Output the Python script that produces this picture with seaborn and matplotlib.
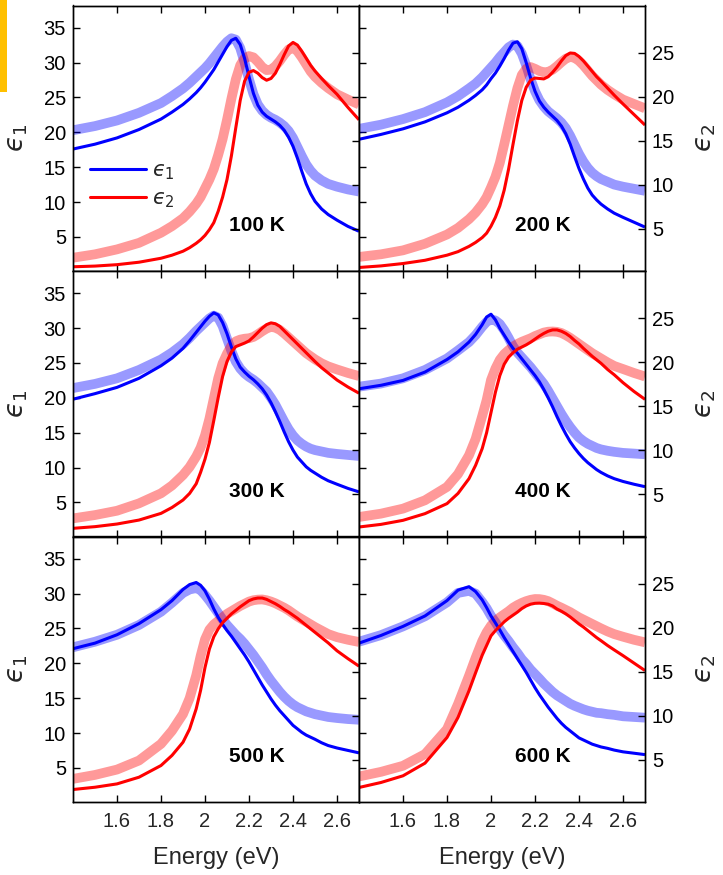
import matplotlib
matplotlib.use("Agg")
import matplotlib.pyplot as plt
import seaborn as sns
from matplotlib.lines import Line2D
from matplotlib.patches import Rectangle
from matplotlib.ticker import FuncFormatter

sns.set_style("ticks")
plt.rcParams["font.family"] = ["Liberation Sans", "DejaVu Sans"]
plt.rcParams["mathtext.fontset"] = "dejavusans"

# ---------------------------------------------------------------- data
# photon energy grid (eV), denser around the excitonic features
energy = [1.40, 1.50, 1.60, 1.70, 1.80, 1.85, 1.90, 1.93, 1.96, 1.98,
          2.00, 2.02, 2.04, 2.06, 2.08, 2.10, 2.12, 2.14, 2.16, 2.18,
          2.20, 2.22, 2.24, 2.26, 2.28, 2.30, 2.32, 2.34, 2.36, 2.38,
          2.40, 2.42, 2.44, 2.46, 2.48, 2.50, 2.53, 2.56, 2.60, 2.65, 2.70]

temperatures = ["100 K", "200 K", "300 K", "400 K", "500 K", "600 K"]

# measured (broad band) and model (thin line) dielectric functions
eps1_exp_100 = [20.3, 20.9, 21.7, 22.8, 24.2, 25.2, 26.3, 27.1, 28.0, 28.6,
                29.2, 29.9, 30.7, 31.5, 32.3, 33.0, 33.5, 33.3, 32.1, 30.0,
                27.6, 25.5, 24.0, 23.1, 22.5, 22.1, 21.8, 21.4, 20.9, 20.2,
                19.2, 17.9, 16.6, 15.4, 14.5, 13.8, 13.1, 12.6, 12.2, 11.8, 11.5]
eps1_mod_100 = [17.6, 18.3, 19.2, 20.4, 21.9, 22.9, 24.0, 24.8, 25.7, 26.4,
                27.2, 28.1, 29.0, 30.1, 31.2, 32.3, 33.2, 33.5, 32.6, 30.6,
                28.0, 25.6, 23.9, 22.9, 22.3, 21.9, 21.5, 21.0, 20.3, 19.3,
                18.0, 16.3, 14.4, 12.6, 11.2, 10.1, 9.0, 8.2, 7.4, 6.5, 5.8]
eps2_exp_100 = [1.71, 2.10, 2.66, 3.40, 4.55, 5.30, 6.20, 6.95, 7.85, 8.60,
                9.60, 10.6, 11.8, 13.4, 15.2, 17.4, 19.8, 22.0, 23.6, 24.4,
                24.65, 24.5, 24.0, 23.4, 23.05, 23.1, 23.5, 24.1, 24.8, 25.4,
                25.6, 25.2, 24.5, 23.7, 22.9, 22.3, 21.6, 21.0, 20.3, 19.7, 19.15]
eps2_mod_100 = [0.68, 0.76, 0.92, 1.20, 1.65, 2.00, 2.45, 2.85, 3.35, 3.75,
                4.25, 4.90, 5.70, 7.00, 8.60, 10.6, 13.3, 16.5, 19.6, 21.8,
                22.8, 23.0, 22.7, 22.2, 21.9, 22.1, 22.7, 23.7, 24.8, 25.8,
                26.2, 25.9, 25.2, 24.4, 23.6, 22.95, 22.1, 21.3, 20.3, 18.8, 17.4]

eps1_exp_200 = [20.5, 21.1, 21.9, 22.9, 24.3, 25.2, 26.3, 27.0, 27.9, 28.6,
                29.3, 30.0, 30.8, 31.5, 32.2, 32.6, 32.4, 31.3, 29.6, 27.6,
                25.9, 24.6, 23.7, 23.0, 22.5, 22.0, 21.4, 20.6, 19.5, 18.2,
                16.9, 15.8, 14.9, 14.2, 13.7, 13.3, 12.9, 12.5, 12.2, 11.9, 11.6]
eps1_mod_200 = [19.0, 19.7, 20.5, 21.5, 22.8, 23.6, 24.6, 25.3, 26.1, 26.8,
                27.7, 28.5, 29.5, 30.6, 31.8, 32.8, 33.0, 32.0, 30.0, 27.8,
                25.9, 24.5, 23.6, 22.9, 22.3, 21.7, 20.9, 19.8, 18.3, 16.5,
                14.8, 13.3, 12.0, 11.0, 10.3, 9.7, 9.0, 8.4, 7.8, 7.1, 6.4]
eps2_exp_200 = [1.80, 2.10, 2.55, 3.30, 4.35, 5.10, 6.10, 6.85, 7.80, 8.60,
                9.70, 10.9, 12.5, 14.6, 16.8, 19.0, 21.0, 22.5, 23.2, 23.4,
                23.2, 22.95, 22.8, 22.85, 23.1, 23.5, 23.95, 24.35, 24.55, 24.45,
                24.1, 23.6, 23.0, 22.4, 21.9, 21.4, 20.8, 20.3, 19.7, 19.2, 18.7]
eps2_mod_200 = [0.60, 0.78, 1.05, 1.42, 2.00, 2.40, 3.00, 3.45, 4.00, 4.50,
                5.30, 6.30, 7.60, 9.40, 11.8, 14.6, 17.3, 19.6, 21.1, 21.9,
                22.15, 22.1, 22.05, 22.3, 22.8, 23.4, 24.1, 24.7, 25.0, 24.95,
                24.6, 24.1, 23.5, 22.9, 22.3, 21.8, 21.0, 20.2, 19.2, 18.0, 16.8]

eps1_exp_300 = [21.4, 22.0, 22.8, 24.0, 25.5, 26.5, 27.7, 28.6, 29.6, 30.2,
                30.8, 31.4, 31.8, 31.5, 30.3, 28.5, 26.7, 25.2, 24.2, 23.5,
                23.0, 22.6, 22.1, 21.5, 20.9, 20.0, 19.0, 17.8, 16.6, 15.5,
                14.6, 13.9, 13.4, 13.0, 12.7, 12.5, 12.3, 12.1, 11.95, 11.8, 11.65]
eps1_mod_300 = [19.8, 20.6, 21.5, 22.8, 24.6, 25.7, 27.1, 28.2, 29.4, 30.2,
                31.0, 31.7, 32.2, 31.9, 30.8, 29.2, 27.3, 25.6, 24.4, 23.7,
                23.1, 22.6, 22.0, 21.3, 20.4, 19.3, 18.0, 16.6, 15.1, 13.7,
                12.5, 11.5, 10.8, 10.1, 9.6, 9.2, 8.6, 8.1, 7.6, 7.0, 6.5]
eps2_exp_300 = [2.26, 2.64, 3.13, 3.97, 5.11, 6.00, 7.19, 8.10, 9.30, 10.3,
                11.7, 13.6, 15.9, 18.2, 19.9, 21.0, 21.9, 22.4, 22.6, 22.7,
                22.75, 22.9, 23.2, 23.55, 23.85, 24.05, 23.95, 23.7, 23.3, 22.85,
                22.4, 21.95, 21.5, 21.05, 20.7, 20.35, 19.9, 19.55, 19.2, 18.8, 18.45]
eps2_mod_300 = [1.13, 1.32, 1.62, 2.07, 2.83, 3.50, 4.35, 5.10, 6.20, 7.50,
                9.00, 10.9, 13.4, 16.0, 18.4, 20.1, 21.2, 21.8, 22.0, 22.2,
                22.45, 22.9, 23.4, 23.9, 24.3, 24.5, 24.4, 24.1, 23.6, 23.1,
                22.6, 22.1, 21.6, 21.1, 20.6, 20.1, 19.4, 18.8, 18.0, 17.2, 16.5]

eps1_exp_400 = [21.6, 22.05, 22.8, 24.0, 25.65, 26.8, 28.0, 29.0, 30.2, 30.9,
                31.25, 31.1, 30.6, 29.7, 28.6, 27.4, 26.5, 25.8, 25.1, 24.4,
                23.6, 22.8, 22.0, 21.0, 19.9, 18.8, 17.7, 16.7, 15.8, 15.0,
                14.3, 13.8, 13.4, 13.1, 12.8, 12.6, 12.4, 12.25, 12.1, 12.0, 11.9]
eps1_mod_400 = [21.3, 21.8, 22.5, 23.7, 25.5, 26.6, 28.0, 29.1, 30.5, 31.6,
                32.0, 31.2, 30.0, 29.0, 28.0, 27.1, 26.4, 25.6, 24.8, 24.0,
                23.2, 22.3, 21.2, 20.0, 18.7, 17.3, 16.0, 14.8, 13.7, 12.8,
                12.0, 11.3, 10.7, 10.2, 9.7, 9.3, 8.8, 8.4, 8.0, 7.6, 7.25]
eps2_exp_400 = [2.42, 2.80, 3.37, 4.32, 5.84, 7.30, 9.44, 11.3, 13.9, 15.7,
                18.0, 19.3, 20.3, 20.95, 21.4, 21.8, 22.1, 22.35, 22.55, 22.75,
                23.0, 23.2, 23.4, 23.5, 23.52, 23.48, 23.35, 23.1, 22.8, 22.45,
                22.1, 21.75, 21.4, 21.05, 20.75, 20.45, 20.0, 19.6, 19.25, 18.8, 18.4]
eps2_mod_400 = [1.28, 1.58, 2.04, 2.80, 3.94, 5.10, 6.78, 8.30, 10.2, 12.0,
                14.3, 16.6, 18.5, 19.8, 20.6, 21.1, 21.5, 21.75, 22.0, 22.3,
                22.65, 23.0, 23.3, 23.55, 23.7, 23.7, 23.55, 23.3, 22.95, 22.5,
                22.1, 21.6, 21.15, 20.7, 20.3, 19.9, 19.2, 18.6, 17.7, 16.7, 15.8]

eps1_exp_500 = [22.3, 23.1, 24.1, 25.5, 27.4, 28.7, 30.1, 30.6, 30.8, 30.5,
                29.8, 29.0, 28.1, 27.2, 26.3, 25.5, 24.8, 24.1, 23.5, 22.8,
                22.0, 21.2, 20.3, 19.4, 18.4, 17.5, 16.7, 15.9, 15.2, 14.6,
                14.1, 13.7, 13.4, 13.1, 12.9, 12.7, 12.5, 12.3, 12.15, 12.0, 11.9]
eps1_mod_500 = [22.1, 22.9, 24.1, 25.7, 27.7, 29.0, 30.6, 31.3, 31.6, 31.2,
                30.4, 29.2, 27.8, 26.6, 25.6, 24.7, 23.9, 23.0, 22.1, 21.2,
                20.2, 19.1, 18.0, 16.9, 15.9, 14.9, 14.0, 13.2, 12.5, 11.8,
                11.1, 10.6, 10.1, 9.7, 9.4, 9.1, 8.6, 8.2, 7.85, 7.5, 7.15]
eps2_exp_500 = [2.83, 3.28, 3.89, 4.92, 6.81, 8.30, 10.2, 12.0, 14.6, 16.8,
                18.7, 19.8, 20.4, 20.8, 21.2, 21.6, 21.9, 22.2, 22.5, 22.75,
                23.0, 23.15, 23.22, 23.24, 23.15, 23.0, 22.8, 22.55, 22.3, 22.0,
                21.65, 21.3, 21.0, 20.7, 20.4, 20.1, 19.7, 19.3, 18.95, 18.65, 18.4]
eps2_mod_500 = [1.62, 1.88, 2.26, 3.02, 4.35, 5.50, 7.00, 8.50, 10.8, 12.9,
                15.5, 17.6, 19.0, 19.9, 20.6, 21.1, 21.6, 22.0, 22.4, 22.75,
                23.1, 23.3, 23.4, 23.4, 23.25, 23.0, 22.75, 22.45, 22.1, 21.8,
                21.45, 21.1, 20.7, 20.3, 19.9, 19.5, 18.9, 18.3, 17.4, 16.5, 15.65]

eps1_exp_600 = [23.1, 24.05, 25.3, 26.75, 28.75, 30.1, 30.4, 30.0, 28.8, 27.9,
                26.8, 25.9, 24.9, 24.0, 23.2, 22.3, 21.5, 20.6, 19.9, 19.1,
                18.45, 17.8, 17.1, 16.5, 15.9, 15.4, 15.0, 14.6, 14.2, 13.9,
                13.65, 13.4, 13.2, 13.05, 12.9, 12.85, 12.7, 12.6, 12.4, 12.3, 12.2]
eps1_mod_600 = [22.9, 24.0, 25.3, 26.8, 29.0, 30.5, 31.0, 30.3, 29.1, 28.0,
                26.8, 25.8, 24.8, 23.7, 22.7, 21.7, 20.7, 19.7, 18.7, 17.6,
                16.5, 15.5, 14.6, 13.7, 12.9, 12.1, 11.4, 10.8, 10.3, 9.8,
                9.3, 9.0, 8.7, 8.4, 8.2, 8.0, 7.8, 7.55, 7.3, 7.1, 6.9]
eps2_exp_600 = [3.10, 3.63, 4.32, 5.65, 8.49, 11.34, 14.56, 16.6, 18.5, 19.5,
                20.26, 20.8, 21.2, 21.55, 21.9, 22.3, 22.6, 22.85, 23.05, 23.2,
                23.29, 23.28, 23.2, 23.05, 22.8, 22.53, 22.3, 22.05, 21.8, 21.5,
                21.2, 20.95, 20.7, 20.45, 20.2, 19.95, 19.6, 19.3, 19.0, 18.65, 18.36]
eps2_mod_600 = [1.85, 2.42, 3.18, 4.62, 7.54, 9.82, 12.86, 14.9, 16.9, 18.0,
                19.1, 19.7, 20.2, 20.7, 21.1, 21.45, 21.8, 22.2, 22.5, 22.7,
                22.8, 22.82, 22.78, 22.7, 22.5, 22.15, 21.9, 21.6, 21.25, 20.85,
                20.45, 20.1, 19.7, 19.3, 18.9, 18.55, 18.0, 17.5, 16.85, 16.0, 15.15]

panels = [
    (eps1_exp_100, eps1_mod_100, eps2_exp_100, eps2_mod_100),
    (eps1_exp_200, eps1_mod_200, eps2_exp_200, eps2_mod_200),
    (eps1_exp_300, eps1_mod_300, eps2_exp_300, eps2_mod_300),
    (eps1_exp_400, eps1_mod_400, eps2_exp_400, eps2_mod_400),
    (eps1_exp_500, eps1_mod_500, eps2_exp_500, eps2_mod_500),
    (eps1_exp_600, eps1_mod_600, eps2_exp_600, eps2_mod_600),
]

# ---------------------------------------------------------------- layout
W, H = 723, 875
COL_X = [73, 359]
PANEL_W = 286
ROW_TOP = [5.5, 271.0, 536.5]
PANEL_H = 265.5

XLIM = (1.4, 2.7)
EPS1_LIM = (0.1, 38.2)
EPS2_LIM = (0.2, 30.4)

BLUE = (0, 0, 1)
RED = (1, 0, 0)
TICK_COLOR = "#262626"
EPS = "\u03f5"          # lunate epsilon
LBL1 = "$" + EPS + "_1$"
LBL2 = "$" + EPS + "_2$"

fig = plt.figure(figsize=(W / 100, H / 100), dpi=100)

# small coloured tab in the upper-left corner
fig.patches.append(Rectangle((0, 1 - 92 / H), 7 / W, 92 / H,
                             transform=fig.transFigure, color="#FFC000", lw=0))

xfmt = FuncFormatter(lambda v, p: f"{v:g}")

for i, (e1x, e1m, e2x, e2m) in enumerate(panels):
    r, c = divmod(i, 2)
    ax = fig.add_axes([COL_X[c] / W, 1 - (ROW_TOP[r] + PANEL_H) / H,
                       PANEL_W / W, PANEL_H / H])
    ax2 = ax.twinx()
    ax.set_xlim(*XLIM)
    ax.set_ylim(*EPS1_LIM)
    ax2.set_ylim(*EPS2_LIM)

    common = dict(estimator=None, errorbar=None, sort=False, legend=False,
                  solid_capstyle="butt", solid_joinstyle="round")
    # broad translucent bands first, thin model curves on top;
    # eps2 curves are drawn in the right-hand (eps2) coordinate system
    sns.lineplot(x=energy, y=e1x, ax=ax, color=BLUE, alpha=0.4, linewidth=7, **common)
    sns.lineplot(x=energy, y=e2x, ax=ax, color=RED, alpha=0.4, linewidth=7,
                 transform=ax2.transData, **common)
    sns.lineplot(x=energy, y=e1m, ax=ax, color=BLUE, linewidth=2.2, **common)
    sns.lineplot(x=energy, y=e2m, ax=ax, color=RED, linewidth=2.2,
                 transform=ax2.transData, **common)
    ax.set_xlim(*XLIM)
    ax.set_ylim(*EPS1_LIM)

    ax.text(2.235, 6.6, temperatures[i], ha="center", va="center",
            fontsize=15, fontweight="bold", color="black")

    ax.set_xticks([1.6, 1.8, 2.0, 2.2, 2.4, 2.6])
    ax.xaxis.set_major_formatter(xfmt)
    ax.set_yticks([5, 10, 15, 20, 25, 30, 35])
    ax2.set_yticks([5, 10, 15, 20, 25])

    ax.tick_params(axis="x", direction="in", length=5, width=1, top=True,
                   labelbottom=(r == 2), labelsize=14.5, pad=7,
                   colors="black", labelcolor=TICK_COLOR)
    ax.tick_params(axis="y", direction="in", length=5, width=1,
                   labelleft=(c == 0), labelsize=14.5, pad=5, colors="black")
    ax2.tick_params(axis="y", direction="in", length=5, width=1,
                    labelright=(c == 1), labelsize=14.5, pad=5, colors="black")
    for a in (ax, ax2):
        for s in a.spines.values():
            s.set_color("black")
            s.set_linewidth(1.0)

    ax.set_xlabel("")
    ax.set_ylabel("")
    ax2.set_ylabel("")
    if c == 0:
        ax.set_ylabel(LBL1, fontsize=19)
        ax.yaxis.set_label_coords(-0.15, 0.5)
    else:
        ax2.set_ylabel(LBL2, fontsize=19)
        ax2.yaxis.set_label_coords(1.17, 0.5)
    if r == 2:
        ax.set_xlabel("Energy (eV)", fontsize=17, color=TICK_COLOR)
        ax.xaxis.set_label_coords(0.5, -0.17)

    if i == 0:
        handles = [Line2D([], [], color=BLUE, lw=2.2),
                   Line2D([], [], color=RED, lw=2.2)]
        ax.legend(handles, [LBL1, LBL2], loc="center left",
                  bbox_to_anchor=(0.059, 0.322), frameon=False, fontsize=15,
                  handlelength=2.7, handletextpad=0.3, labelspacing=0.35,
                  borderpad=0, borderaxespad=0)

fig.savefig("out.png", dpi=100)
